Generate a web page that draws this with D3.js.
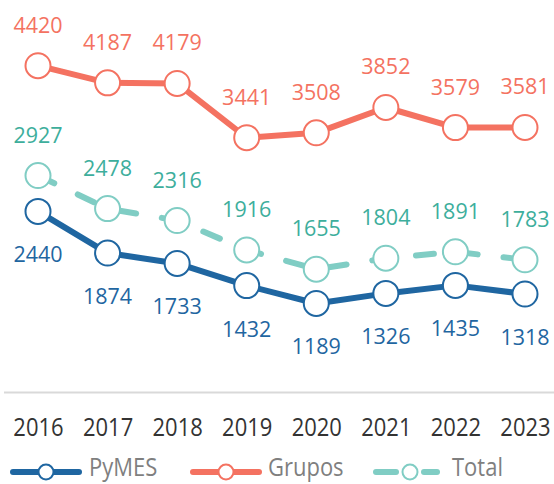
<!DOCTYPE html>
<html>
<head>
<meta charset="utf-8">
<script src="https://cdn.jsdelivr.net/npm/d3@7"></script>
<style>
  html, body { margin: 0; padding: 0; background: #fff; }
  svg { display: block; font-family: "Open Sans", sans-serif; }
</style>
</head>
<body>
<svg id="chart" width="554" height="484"></svg>
<script>
const years = ["2016","2017","2018","2019","2020","2021","2022","2023"];
const pymes = [2440, 1874, 1733, 1432, 1189, 1326, 1435, 1318];
const grupos = [4420, 4187, 4179, 3441, 3508, 3852, 3579, 3581];
const total = [2927, 2478, 2316, 1916, 1655, 1804, 1891, 1783];
const seriesNames = ["PyMES", "Grupos", "Total"];

const series = [
  {name: "Total", values: total, line: "#80CDC4", label: "#3DAE9C", dash: "18,26", pos: "above"},
  {name: "PyMES", values: pymes, line: "#1F66A1", label: "#1F66A1", dash: null, pos: "below"},
  {name: "Grupos", values: grupos, line: "#F47261", label: "#F47261", dash: null, pos: "above"}
];

const svg = d3.select("#chart");
const x = d3.scalePoint().domain(years).range([38, 525]);
const y = d3.scaleLinear().domain([0, 5000]).range([391, 23]);

// baseline axis line
svg.append("line")
  .attr("x1", 4).attr("x2", 554)
  .attr("y1", y(0) + 1.5).attr("y2", y(0) + 1.5)
  .attr("stroke", "#D9D9D9").attr("stroke-width", 2);

// x-axis labels
const xAxis = d3.axisBottom(x).tickSize(0).tickPadding(0);
const gx = svg.append("g").attr("transform", `translate(0, 436)`).call(xAxis);
gx.select(".domain").remove();
gx.selectAll("text")
  .attr("dy", 0).attr("y", 0)
  .attr("fill", "#333333")
  .style("font-size", "22px")
  .style("font-family", "'Open Sans', sans-serif")
  .attr("transform", "scale(1,1.15)");

const line = d3.line().x((d, i) => x(years[i])).y(d => y(d));

series.forEach(s => {
  const g = svg.append("g");
  g.append("path")
    .datum(s.values)
    .attr("d", line)
    .attr("fill", "none")
    .attr("stroke", s.line)
    .attr("stroke-width", 6)
    .attr("stroke-linejoin", "round")
    .attr("stroke-linecap", s.dash ? "round" : "butt")
    .attr("stroke-dasharray", s.dash);
  g.selectAll("circle").data(s.values).join("circle")
    .attr("cx", (d, i) => x(years[i]))
    .attr("cy", d => y(d))
    .attr("r", 12.5)
    .attr("fill", "#fff")
    .attr("stroke", s.line)
    .attr("stroke-width", 2);
  g.selectAll("text").data(s.values).join("text")
    .attr("x", (d, i) => x(years[i]))
    .attr("y", d => y(d) + (s.pos === "above" ? -33 : 51))
    .attr("text-anchor", "middle")
    .attr("fill", s.label)
    .style("font-size", "21.5px")
    .text(d => d);
});

// legend
const legendItems = [
  {name: seriesNames[0], color: "#1F66A1", x1: 10, x2: 82, cx: 46, tx: 89, dash: null},
  {name: seriesNames[1], color: "#F47261", x1: 190, x2: 262, cx: 226, tx: 268, dash: null},
  {name: seriesNames[2], color: "#80CDC4", x1: 373, x2: 440, cx: 410, tx: 452, dash: "18,26"}
];
const lg = svg.append("g");
legendItems.forEach(it => {
  if (it.dash) {
    lg.append("line").attr("x1", it.x1 + 3).attr("x2", it.cx - 14)
      .attr("y1", 472).attr("y2", 472)
      .attr("stroke", it.color).attr("stroke-width", 6).attr("stroke-linecap", "round");
    lg.append("line").attr("x1", it.cx + 14).attr("x2", it.x2 - 3)
      .attr("y1", 472).attr("y2", 472)
      .attr("stroke", it.color).attr("stroke-width", 6).attr("stroke-linecap", "round");
  } else {
    lg.append("line").attr("x1", it.x1 + 3).attr("x2", it.x2 - 3)
      .attr("y1", 472).attr("y2", 472)
      .attr("stroke", it.color).attr("stroke-width", 6).attr("stroke-linecap", "round");
  }
  lg.append("circle").attr("cx", it.cx).attr("cy", 472).attr("r", 7.5)
    .attr("fill", "#fff").attr("stroke", it.color).attr("stroke-width", 2);
  lg.append("text").attr("x", it.tx).attr("y", 0)
    .attr("transform", `translate(0,476) scale(1,1.15)`)
    .attr("fill", "#7F7F7F")
    .style("font-size", "22px")
    .text(it.name);
});
</script>
</body>
</html>
